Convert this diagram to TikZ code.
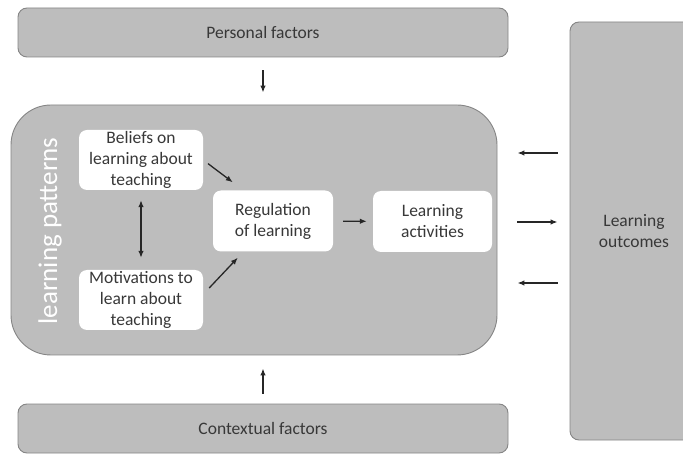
\documentclass[tikz,border=0pt]{standalone}
\usepackage{fontspec}
\setmainfont{Carlito}
\usepackage{tikz}
\usetikzlibrary{arrows.meta,positioning}
\definecolor{lpgris}{HTML}{BDBDBD}
\definecolor{lpbord}{HTML}{858585}
\definecolor{lptexte}{HTML}{383838}

\begin{document}
\begin{tikzpicture}[x=1pt,y=-1pt,font=\fontsize{17.5}{21}\selectfont,
  >={Latex[length=7pt,width=5.5pt]},
  grisbox/.style={draw=lpbord,fill=lpgris,line width=0.9pt,rounded corners=9pt,text=lptexte,align=center,inner sep=0pt},
  blancbox/.style={fill=white,rounded corners=8pt,text=lptexte,align=center,inner sep=0pt,minimum width=122pt,minimum height=61pt},
  fl/.style={line width=1.3pt,black!85}]
  \useasboundingbox (0,0) rectangle (683,454);
  \clip (0,0) rectangle (683,454);
  % cadres gris
  \node[grisbox,minimum width=490pt,minimum height=49pt] (pers) at (263,32.5){Personal factors};
  \node[grisbox,minimum width=490pt,minimum height=49pt] (ctx) at (263,428.5){Contextual factors};
  \node[grisbox,minimum width=128pt,minimum height=418pt] (out) at (634,231){Learning\\outcomes};
  \node[grisbox,rounded corners=40pt,minimum width=486pt,minimum height=250pt] (lp) at (254,230){};
  \node[white,rotate=90,font=\fontsize{27}{30}\selectfont] (lplabel) at (50,231){learning patterns};
  % cadres blancs
  \node[blancbox,minimum width=124pt,minimum height=60pt] (beliefs) at (141,160){Beliefs on\\learning about\\teaching};
  \node[blancbox,minimum width=124pt,minimum height=60pt] (motiv) at (141,300){Motivations to\\learn about\\teaching};
  \node[blancbox,minimum width=120pt] (reg) at (273,221){Regulation\\of learning};
  \node[blancbox,minimum width=119pt] (act) at (432.5,221.5){Learning\\activities};
  % fleches
  \draw[fl,->,shorten <=13pt,shorten >=12pt] (pers.south) -- (lp.north -| pers.south);
  \draw[fl,->,shorten <=10pt,shorten >=13pt] (ctx.north) -- (lp.south -| ctx.north);
  \draw[fl,<->,shorten <=10pt,shorten >=12pt] (beliefs) -- (motiv);
  \draw[fl,->,shorten <=6pt] (beliefs.east) -- ([shift={(20pt,8pt)}]reg.north west);
  \draw[fl,->] ([shift={(6pt,12pt)}]motiv.east) -- ([shift={(25pt,-6pt)}]reg.south west);
  \draw[fl,->,shorten <=10pt,shorten >=6pt] (reg) -- (act);
  % retours
  \draw[fl,->,shorten <=20pt,shorten >=12pt] (lp.east |- 0,222) -- (out.west |- 0,222);
  \foreach \y in {153,283}
    \draw[fl,<-,shorten <=20pt,shorten >=12pt] (lp.east |- 0,\y) -- (out.west |- 0,\y);
\end{tikzpicture}
\end{document}
